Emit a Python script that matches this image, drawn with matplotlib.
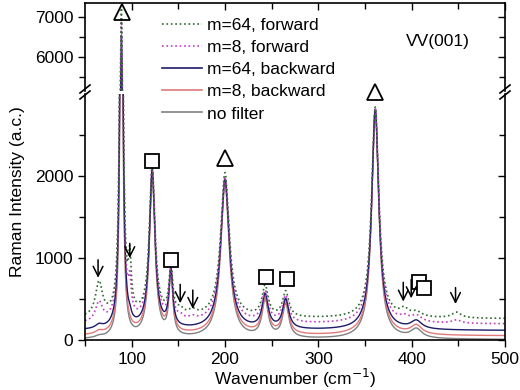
import numpy as np
import matplotlib
matplotlib.use('Agg')
import matplotlib.pyplot as plt
from matplotlib.lines import Line2D

plt.rcParams['font.family'] = ['Liberation Sans', 'DejaVu Sans']
plt.rcParams['font.size'] = 12.5

# peak positions (cm-1) and half widths
centers = [65, 89, 98, 122, 142, 152, 165, 200, 243, 265, 361, 392, 405, 448]
widths = [4.5, 1.7, 1.8, 3.6, 2.4, 4.0, 5.0, 5.5, 4.0, 4.0, 4.6, 5.0, 7.0, 6.0]

# peak heights for each spectrum, same order as centers
h_nofilter = [20, 5600, 0, 1980, 760, 0, 0, 1880, 450, 410, 2780, 0, 110, 0]
h_m8_back = [35, 6000, 0, 1980, 760, 0, 0, 1880, 440, 400, 2760, 0, 110, 0]
h_m64_back = [45, 6400, 60, 1930, 690, 0, 0, 1840, 410, 360, 2700, 0, 100, 0]
h_m8_fwd = [240, 6700, 360, 1880, 610, 50, 40, 1780, 370, 320, 2630, 50, 80, 40]
h_m64_fwd = [420, 6900, 600, 1830, 590, 70, 60, 1770, 370, 310, 2580, 80, 60, 70]

# flat background of each spectrum
base = {'no filter': 5, 'm=8, backward': 50, 'm=64, backward': 115,
        'm=8, forward': 195, 'm=64, forward': 260}

labels = ['m=64, forward', 'm=8, forward', 'm=64, backward', 'm=8, backward', 'no filter']
heights = {'m=64, forward': h_m64_fwd, 'm=8, forward': h_m8_fwd,
           'm=64, backward': h_m64_back, 'm=8, backward': h_m8_back,
           'no filter': h_nofilter}
colors = {'m=64, forward': '#2f6a2f', 'm=8, forward': '#c23ec2',
          'm=64, backward': '#1c1c6b', 'm=8, backward': '#e07a7a',
          'no filter': '#808080'}
styles = {'m=64, forward': ':', 'm=8, forward': ':', 'm=64, backward': '-',
          'm=8, backward': '-', 'no filter': '-'}

# mode markers
tri_x = [89.7, 200, 361]
tri_y = [7120, 2230, 3030]
sq_x = [122, 142, 244, 266.5, 408, 413]
sq_y = [2185, 975, 775, 750, 710, 640]
arrow_x = [64, 98, 152, 165.5, 391, 399.5, 447]
arrow_top = [980, 1180, 680, 610, 705, 740, 640]
arrow_tip = [760, 1000, 450, 380, 470, 510, 440]

x = np.linspace(50, 500, 3000)


def spectrum(hs, b):
    y = np.full_like(x, b, dtype=float)
    for c, w, h in zip(centers, widths, hs):
        y += h * w**2 / ((x - c)**2 + w**2)
    return y


W, H = 520, 390
fig = plt.figure(figsize=(5.2, 3.9), dpi=100)
L, R = 85 / W, 505 / W
ax_top = fig.add_axes([L, 1 - 91 / H, R - L, 88 / H])
ax = fig.add_axes([L, 1 - 340 / H, R - L, 246 / H])

for lab in labels[::-1]:
    y = spectrum(heights[lab], base[lab])
    for a in (ax, ax_top):
        a.plot(x, y, color=colors[lab], ls=styles[lab], lw=1.2 if styles[lab] == ':' else 1.0)

ax.set_xlim(50, 500)
ax_top.set_xlim(50, 500)
ax.set_ylim(0, 3006)
ax_top.set_ylim(5150, 7350)

ax.spines['top'].set_visible(False)
ax_top.spines['bottom'].set_visible(False)

ax.set_yticks([0, 1000, 2000])
ax.set_yticks([500, 1500, 2500], minor=True)
ax_top.set_yticks([6000, 7000])
ax_top.set_yticks([5500, 6500], minor=True)
ax.set_xticks([100, 200, 300, 400, 500])
ax.set_xticks([50, 150, 250, 350, 450], minor=True)
ax_top.set_xticks([100, 200, 300, 400, 500])
ax_top.set_xticks([150, 250, 350, 450], minor=True)

for a in (ax, ax_top):
    a.tick_params(which='both', left=True, right=True, direction='out', width=1)
    a.tick_params(which='major', length=5)
    a.tick_params(which='minor', length=4)
    a.tick_params(axis='y', which='both', right=True, labelright=False)
    for s in a.spines.values():
        s.set_linewidth(1.2)
ax.tick_params(axis='x', which='both', top=False)
ax_top.tick_params(axis='x', which='both', bottom=False, top=True, labelbottom=False, direction='in')
for a in (ax, ax_top):
    for t in a.yaxis.get_ticklines(minor=False)[1::2] + a.yaxis.get_ticklines(minor=True)[1::2]:
        t.set_marker(matplotlib.lines.TICKLEFT)

ax.set_xlabel('Wavenumber (cm$^{-1}$)', labelpad=0)
fig.text(18 / W, 1 - 192 / H, 'Raman Intensity (a.c.)', rotation=90, va='center', ha='center')

# markers
ax.plot(tri_x[1:], tri_y[1:], ls='none', marker='^', ms=12, mfc='none', mec='k', mew=1.3, clip_on=False)
ax_top.plot(tri_x[:1], tri_y[:1], ls='none', marker='^', ms=12, mfc='none', mec='k', mew=1.3, clip_on=False)
ax.plot(sq_x, sq_y, ls='none', marker='s', ms=10.5, mfc='white', mec='k', mew=1.3, clip_on=False)
for xa, yt, yp in zip(arrow_x, arrow_top, arrow_tip):
    ax.annotate('', xy=(xa, yp), xytext=(xa, yt),
                arrowprops=dict(arrowstyle='->,head_length=0.5,head_width=0.25', lw=1.1,
                                color='k', mutation_scale=14, shrinkA=0, shrinkB=0))

ax_top.text(0.917, 0.557, 'VV(001)', transform=ax_top.transAxes, ha='right', va='center')

# axis break marks
for px in (85, 505):
    for py in (89, 95):
        fig.add_artist(Line2D([(px - 5) / W, (px + 5) / W], [1 - (py + 4) / H, 1 - (py - 4) / H],
                              color='k', lw=1.2, transform=fig.transFigure))

handles = [Line2D([], [], color=colors[l], ls=styles[l], lw=1.2) for l in labels]
fig.legend(handles, labels, loc='upper left', bbox_to_anchor=(162 / W, 1 - 18 / H),
           frameon=False, handlelength=2.3, handletextpad=0.3, labelspacing=0.4,
           borderpad=0, borderaxespad=0)

fig.savefig('out.png', dpi=100)
